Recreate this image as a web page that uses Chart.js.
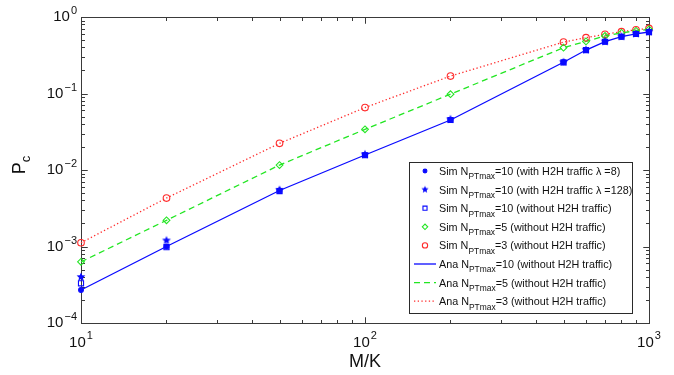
<!DOCTYPE html>
<html>
<head>
<meta charset="utf-8">
<script src="https://cdn.jsdelivr.net/npm/chart.js@4/dist/chart.umd.min.js"></script>
<style>
  html, body { margin: 0; padding: 0; background: #fff; }
  #wrap { width: 674px; height: 375px; position: relative; }
</style>
</head>
<body>
<div id="wrap"><canvas id="pc" width="674" height="375"></canvas></div>
<script>
// M/K values on the x axis
const mk = [10, 20, 50, 100, 200, 500, 600, 700, 800, 900, 1000];

// simulation points
const simN10Lam8   = [2.7e-4, 1.0e-3, 5.4e-3, 0.0157, 0.045, 0.256, 0.37, 0.476, 0.553, 0.60, 0.637];
const simN10Lam128 = [4.0e-4, 1.2e-3, 5.5e-3, 0.0160, 0.046, 0.258, 0.372, 0.478, 0.555, 0.602, 0.64];
const simN10       = [3.3e-4, 0.98e-3, 5.3e-3, 0.0156, 0.045, 0.255, 0.369, 0.475, 0.552, 0.60, 0.636];
const simN5        = [6.3e-4, 2.2e-3, 0.0116, 0.034, 0.098, 0.397, 0.48, 0.565, 0.62, 0.66, 0.69];
const simN3        = [1.12e-3, 4.3e-3, 0.0223, 0.0655, 0.169, 0.47, 0.537, 0.593, 0.643, 0.68, 0.71];

// analytic curves
const anaN10 = [2.7e-4, 1.0e-3, 5.4e-3, 0.0157, 0.045, 0.256, 0.37, 0.476, 0.553, 0.60, 0.637];
const anaN5  = [6.3e-4, 2.2e-3, 0.0116, 0.034, 0.098, 0.397, 0.48, 0.565, 0.62, 0.66, 0.69];
const anaN3  = [1.12e-3, 4.3e-3, 0.0223, 0.0655, 0.169, 0.47, 0.537, 0.593, 0.643, 0.68, 0.71];

// tick exponents (labels are 10^n)
const xTickExp = [1, 2, 3];
const yTickExp = [0, -1, -2, -3, -4];

// legend labels: [text, isSubscript]
const legendLabels = [
  [['Sim N', 0], ['PTmax', 1], ['=10 (with H2H traffic \u03bb =8)', 0]],
  [['Sim N', 0], ['PTmax', 1], ['=10 (with H2H traffic \u03bb =128)', 0]],
  [['Sim N', 0], ['PTmax', 1], ['=10 (without H2H traffic)', 0]],
  [['Sim N', 0], ['PTmax', 1], ['=5 (without H2H traffic)', 0]],
  [['Sim N', 0], ['PTmax', 1], ['=3 (without H2H traffic)', 0]],
  [['Ana N', 0], ['PTmax', 1], ['=10 (without H2H traffic)', 0]],
  [['Ana N', 0], ['PTmax', 1], ['=5 (without H2H traffic)', 0]],
  [['Ana N', 0], ['PTmax', 1], ['=3 (without H2H traffic)', 0]]
];

const BLUE = '#0a0aff', GREEN = '#22e622', RED = '#ff2a2a';
const FONT = '"Liberation Sans", Arial, Helvetica, sans-serif';

const pts = ys => mk.map((x, i) => ({ x: x, y: ys[i] }));

// filled pentagram marker
function makeStar(r, color) {
  const c = document.createElement('canvas');
  const s = Math.ceil(r * 2 + 2);
  c.width = s; c.height = s;
  const g = c.getContext('2d');
  g.fillStyle = color;
  g.beginPath();
  for (let i = 0; i < 10; i++) {
    const rr = i % 2 ? r * 0.45 : r;
    const a = -Math.PI / 2 + i * Math.PI / 5;
    const px = s / 2 + rr * Math.cos(a), py = s / 2 + rr * Math.sin(a);
    i ? g.lineTo(px, py) : g.moveTo(px, py);
  }
  g.closePath();
  g.fill();
  return c;
}
const starImg = makeStar(4.6, BLUE);
const starSmall = makeStar(3.8, BLUE);

function simSet(data, style, color, radius, filled) {
  return {
    data: pts(data), showLine: false, clip: false,
    pointStyle: style, pointRadius: radius, pointHoverRadius: radius,
    pointBorderColor: color, pointBackgroundColor: filled ? color : 'rgba(0,0,0,0)',
    pointBorderWidth: 1.1, borderColor: color, backgroundColor: color
  };
}
function anaSet(data, color, dash) {
  return {
    data: pts(data), showLine: true, clip: false, pointRadius: 0, pointHoverRadius: 0,
    borderColor: color, borderWidth: 1.3, borderDash: dash, tension: 0, fill: false
  };
}

// text with subscript parts
function drawRich(ctx, x, y, parts, size) {
  let cx = x;
  parts.forEach(([t, sub]) => {
    ctx.font = (sub ? size * 0.78 : size) + 'px ' + FONT;
    ctx.fillText(t, cx, y + (sub ? size * 0.4 : 0));
    cx += ctx.measureText(t).width;
  });
}
function pow10(e) { return (e < 0 ? '\u2212' : '') + Math.abs(e); }

const framePlugin = {
  id: 'frame',
  beforeDatasetsDraw(chart) {
    const { ctx, chartArea: a, scales: { x, y } } = chart;
    ctx.save();
    ctx.strokeStyle = '#3a3a3a';
    ctx.lineWidth = 1;
    const L = Math.round(a.left) + 0.5, R = Math.round(a.right) + 0.5;
    const T = Math.round(a.top) + 0.5, B = Math.round(a.bottom) + 0.5;
    ctx.strokeRect(L, T, R - L, B - T);
    ctx.beginPath();
    // x ticks (top and bottom, inward)
    for (let e = 1; e < 3; e++) {
      for (let m = 1; m <= 10; m++) {
        const px = Math.round(x.getPixelForValue(m * Math.pow(10, e))) + 0.5;
        const len = (m === 1 || m === 10) ? 6 : 3.5;
        ctx.moveTo(px, B); ctx.lineTo(px, B - len);
        ctx.moveTo(px, T); ctx.lineTo(px, T + len);
      }
    }
    // y ticks (left and right, inward)
    for (let e = -4; e < 0; e++) {
      for (let m = 1; m <= 10; m++) {
        const py = Math.round(y.getPixelForValue(m * Math.pow(10, e))) + 0.5;
        const len = (m === 1 || m === 10) ? 6 : 3.5;
        ctx.moveTo(L, py); ctx.lineTo(L + len, py);
        ctx.moveTo(R, py); ctx.lineTo(R - len, py);
      }
    }
    ctx.stroke();
    ctx.restore();
  },
  afterDatasetsDraw(chart) {
    const { ctx, chartArea: a, scales: { x, y } } = chart;
    ctx.save();
    ctx.fillStyle = '#111';
    ctx.textBaseline = 'alphabetic';
    ctx.textAlign = 'left';
    // y tick labels, right aligned
    yTickExp.forEach(e => {
      const py = y.getPixelForValue(Math.pow(10, e));
      ctx.font = '11px ' + FONT;
      const es = pow10(e), ew = ctx.measureText(es).width;
      ctx.fillText(es, 77 - ew, py - 3);
      ctx.font = '15px ' + FONT;
      const bw = ctx.measureText('10').width;
      ctx.fillText('10', 77 - ew - 1 - bw, py + 4);
    });
    // x tick labels, centred
    xTickExp.forEach(e => {
      const px = x.getPixelForValue(Math.pow(10, e));
      ctx.font = '15px ' + FONT;
      const bw = ctx.measureText('10').width;
      ctx.font = '11px ' + FONT;
      const es = pow10(e), ew = ctx.measureText(es).width;
      const x0 = px - (bw + 1 + ew) / 2;
      ctx.font = '15px ' + FONT;
      ctx.fillText('10', x0, 347);
      ctx.font = '11px ' + FONT;
      ctx.fillText(es, x0 + bw + 1, 339);
    });
    // axis titles
    ctx.textAlign = 'center';
    ctx.font = '18px ' + FONT;
    ctx.fillText('M/K', (a.left + a.right) / 2, 367);
    ctx.save();
    ctx.translate(25, 165);
    ctx.rotate(-Math.PI / 2);
    ctx.textAlign = 'left';
    ctx.font = '18px ' + FONT;
    const pw = ctx.measureText('P').width;
    ctx.font = '13px ' + FONT;
    const cw = ctx.measureText('c').width;
    const sx = -(pw + cw) / 2;
    ctx.font = '18px ' + FONT;
    ctx.fillText('P', sx, 0);
    ctx.font = '13px ' + FONT;
    ctx.fillText('c', sx + pw, 5);
    ctx.restore();

    // legend
    const lx = 409.5, ly = 162.5, lw = 223, lh = 151;
    ctx.fillStyle = '#fff';
    ctx.fillRect(lx, ly, lw, lh);
    ctx.strokeStyle = '#2a2a2a';
    ctx.lineWidth = 1;
    ctx.strokeRect(lx, ly, lw, lh);
    chart.data.datasets.forEach((ds, i) => {
      const ry = 171 + i * 18.6;
      if (ds.showLine) {
        ctx.strokeStyle = ds.borderColor;
        ctx.lineWidth = ds.borderWidth;
        ctx.setLineDash(ds.borderDash || []);
        ctx.beginPath();
        ctx.moveTo(414, ry); ctx.lineTo(436, ry);
        ctx.stroke();
        ctx.setLineDash([]);
      } else {
        ctx.strokeStyle = ds.pointBorderColor;
        ctx.fillStyle = ds.pointBackgroundColor;
        ctx.lineWidth = ds.pointBorderWidth;
        Chart.helpers.drawPoint(ctx, {
          pointStyle: ds.pointStyle === starImg ? starSmall : ds.pointStyle,
          radius: ds.pointRadius * 0.8,
          rotation: 0, borderWidth: ds.pointBorderWidth
        }, 425, ry);
      }
      ctx.fillStyle = '#111';
      ctx.textAlign = 'left';
      drawRich(ctx, 439, ry + 4, legendLabels[i], 10.8);
    });
    ctx.restore();
  }
};

new Chart(document.getElementById('pc'), {
  type: 'scatter',
  data: {
    datasets: [
      simSet(simN10Lam8, 'circle', BLUE, 2.4, true),
      simSet(simN10Lam128, starImg, BLUE, 4, true),
      simSet(simN10, 'rect', BLUE, 3.6, false),
      simSet(simN5, 'rectRot', GREEN, 3.4, false),
      simSet(simN3, 'circle', RED, 3.3, false),
      anaSet(anaN10, BLUE, []),
      anaSet(anaN5, GREEN, [6, 4]),
      anaSet(anaN3, RED, [1.3, 2.4])
    ]
  },
  options: {
    responsive: false,
    animation: false,
    devicePixelRatio: 1,
    layout: { padding: { left: 81, right: 25, top: 17, bottom: 52 } },
    plugins: { legend: { display: false }, tooltip: { enabled: false } },
    scales: {
      x: { type: 'logarithmic', min: 10, max: 1000, display: false },
      y: { type: 'logarithmic', min: 1e-4, max: 1, display: false }
    }
  },
  plugins: [framePlugin]
});
</script>
</body>
</html>
